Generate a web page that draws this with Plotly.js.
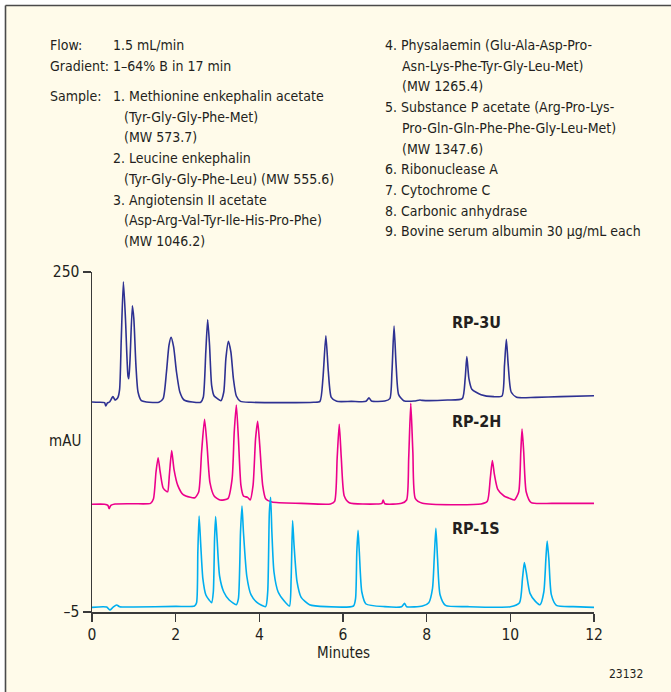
<!DOCTYPE html>
<html>
<head>
<meta charset="utf-8">
<script src="https://cdn.plot.ly/plotly-3.0.1.min.js"></script>
<style>
  html, body { margin: 0; padding: 0; background: #ffffff; }
  #chart { width: 671px; height: 692px; }
</style>
</head>
<body>
<div id="chart"></div>
<script>
// ---------- Data ----------
// RP-3U (navy), offset upward in the stacked display
const rp3uTime = [0, 0.15, 0.3, 0.33, 0.37, 0.42, 0.5, 0.55, 0.58, 0.62, 0.66, 0.7, 0.75, 0.8, 0.86, 0.88, 0.91, 0.965, 1.0, 1.05, 1.1, 1.18, 1.3, 1.6, 1.7, 1.78, 1.84, 1.89, 1.95, 2.02, 2.1, 2.2, 2.4, 2.6, 2.66, 2.72, 2.765, 2.81, 2.86, 2.92, 3.0, 3.08, 3.15, 3.2, 3.26, 3.32, 3.38, 3.45, 3.55, 3.8, 4.5, 5.3, 5.45, 5.52, 5.59, 5.65, 5.72, 5.85, 6.2, 6.55, 6.62, 6.68, 7.0, 7.12, 7.17, 7.22, 7.27, 7.33, 7.45, 7.7, 7.84, 7.9, 8.5, 8.85, 8.92, 8.96, 9.01, 9.08, 9.3, 9.6, 9.8, 9.86, 9.905, 9.95, 10.02, 10.15, 10.6, 11.2, 12];
const rp3uSignal = [152.5, 152.3, 152, 149.5, 151.8, 152.5, 156.5, 154, 154.5, 156, 162, 200, 242.7, 215, 172, 170, 185, 224.7, 215, 180, 160, 153.5, 152.5, 152.3, 155, 175, 195, 201, 194, 175, 160, 154, 152.5, 152.3, 156, 190, 214.2, 195, 165, 157, 155, 153.5, 160, 185, 198, 190, 170, 157, 153, 152.3, 152, 152.3, 153, 170, 202.2, 175, 156, 153, 153, 153, 155.7, 153.3, 153.2, 155, 175, 209.5, 180, 158, 153.5, 153.2, 154, 153.7, 154, 155, 170, 186.5, 170, 162, 158, 156.5, 157, 180, 199.5, 180, 160, 156, 156, 156.5, 157.2];

// RP-2H (magenta)
const rp2hTime = [0, 0.3, 0.38, 0.41, 0.45, 0.55, 1.0, 1.4, 1.47, 1.53, 1.58, 1.63, 1.7, 1.78, 1.81, 1.85, 1.905, 1.96, 2.05, 2.18, 2.35, 2.46, 2.55, 2.62, 2.69, 2.75, 2.82, 2.92, 3.06, 3.25, 3.35, 3.4, 3.45, 3.5, 3.56, 3.62, 3.66, 3.72, 3.78, 3.85, 3.91, 3.96, 4.01, 4.08, 4.15, 4.3, 5.0, 5.7, 5.8, 5.86, 5.91, 5.96, 6.03, 6.15, 6.8, 6.93, 6.96, 7.0, 7.4, 7.52, 7.57, 7.62, 7.67, 7.73, 7.9, 9.3, 9.45, 9.52, 9.57, 9.62, 9.7, 9.85, 10.0, 10.1, 10.2, 10.25, 10.28, 10.32, 10.38, 10.5, 11, 12];
const rp2hSignal = [75.8, 75.8, 75, 72.5, 75, 76, 76.2, 76.5, 80, 100, 110.7, 100, 88, 85.5, 85.2, 98, 116, 102, 90, 83, 81, 80.7, 85, 115, 139.5, 120, 92, 82, 79, 80, 95, 130, 150.3, 125, 90, 82, 81.5, 81, 79, 90, 125, 138, 120, 90, 80, 77.5, 76.5, 76, 78, 110, 135.8, 110, 82, 77, 76, 76.5, 79, 76.2, 76.5, 79, 110, 151.5, 115, 80, 76.5, 76, 78, 95, 108.5, 98, 87, 82, 80, 79, 85, 115, 132.2, 115, 85, 77, 76.5, 76.5];

// RP-1S (cyan)
const rp1sTime = [0, 0.35, 0.43, 0.5, 0.59, 0.66, 1.0, 2.0, 2.45, 2.5, 2.53, 2.56, 2.6, 2.65, 2.72, 2.8, 2.86, 2.9, 2.93, 2.955, 2.99, 3.05, 3.15, 3.28, 3.45, 3.5, 3.55, 3.585, 3.62, 3.7, 3.8, 3.95, 4.15, 4.2, 4.24, 4.27, 4.3, 4.35, 4.45, 4.6, 4.72, 4.76, 4.795, 4.83, 4.9, 5.0, 5.2, 5.6, 6.25, 6.3, 6.33, 6.36, 6.39, 6.45, 6.55, 7.0, 7.4, 7.47, 7.52, 7.9, 8.05, 8.14, 8.18, 8.22, 8.26, 8.32, 8.45, 9.0, 10.0, 10.22, 10.29, 10.335, 10.38, 10.47, 10.6, 10.71, 10.8, 10.85, 10.88, 10.92, 10.98, 11.1, 11.5, 12];
const rp1sSignal = [-1.5, -1.3, -3.5, -1.5, 0.3, -1, -1.2, -0.8, -0.5, 2, 40, 67, 45, 20, 8, 4, 2, 10, 50, 66.5, 50, 22, 10, 4, 0.5, 5, 55, 74.5, 55, 22, 8, 2, -1, 10, 70, 81, 55, 25, 10, 3, -0.5, 20, 63.5, 45, 18, 6, 0.5, -1, -0.5, 5, 40, 56.2, 40, 10, 1, -1, -1, 1.5, -1, -0.5, 2, 12.8, 35, 57.8, 35, 8, 0, -1, -1, 2, 20, 32, 25, 9, 3, 0.5, 10, 35, 48.2, 35, 8, 0, -1, -1.5];

const seriesNames = ["RP-3U", "RP-2H", "RP-1S"];
const seriesColors = ["#2e3192", "#ec008c", "#00aeef"];

// Axis ticks
const xTickVals = [0, 2, 4, 6, 8, 10, 12];
const xTickText = ["0", "2", "4", "6", "8", "10", "12"];
const yTickVals = [-5, 250];
const yTickText = ["\u20135", "250"];

// Text block (conditions)
const leftLabels = ["Flow:", "Gradient:", "Sample:"];
const leftValues = ["1.5 mL/min", "1\u201364% B in 17 min"];
const sampleLines = [
  "1. Methionine enkephalin acetate",
  "(Tyr-Gly-Gly-Phe-Met)",
  "(MW 573.7)",
  "2. Leucine enkephalin",
  "(Tyr-Gly-Gly-Phe-Leu) (MW 555.6)",
  "3. Angiotensin II acetate",
  "(Asp-Arg-Val-Tyr-Ile-His-Pro-Phe)",
  "(MW 1046.2)"
];
const rightLines = [
  "4. Physalaemin (Glu-Ala-Asp-Pro-",
  "Asn-Lys-Phe-Tyr-Gly-Leu-Met)",
  "(MW 1265.4)",
  "5. Substance P acetate (Arg-Pro-Lys-",
  "Pro-Gln-Gln-Phe-Phe-Gly-Leu-Met)",
  "(MW 1347.6)",
  "6. Ribonuclease A",
  "7. Cytochrome C",
  "8. Carbonic anhydrase",
  "9. Bovine serum albumin 30 \u00b5g/mL each"
];
const figureId = "23132";

// ---------- Layout geometry (pixels) ----------
const W = 671, H = 692;
const PL = 92, PR = 594, PT = 272, PB = 612;
const px = x => (x - PL) / (PR - PL);
const py = y => (PB - y) / (PB - PT);

const FONT = '"Liberation Sans Narrow", "DejaVu Sans Condensed", "Arial Narrow", sans-serif';
const TXT = "#231f20";

const annotations = [];
function addText(text, x, y, opts) {
  annotations.push(Object.assign({
    text: text, xref: "paper", yref: "paper", x: px(x), y: py(y),
    xanchor: "left", yanchor: "middle", showarrow: false,
    font: { family: FONT, size: 14, color: TXT }
  }, opts || {}));
}

const lineStep = 20.7;
addText(leftLabels[0], 48, 45);
addText(leftValues[0], 111, 45);
addText(leftLabels[1], 48, 66);
addText(leftValues[1], 111, 66);
addText(leftLabels[2], 48, 96);
const sampleIndent = [111, 122, 122, 111, 122, 111, 122, 122];
sampleLines.forEach((s, i) => addText(s, sampleIndent[i], 96 + i * lineStep));
const rightIndent = [383, 400, 400, 383, 400, 400, 383, 383, 383, 383];
rightLines.forEach((s, i) => addText(s, rightIndent[i], 45 + i * lineStep));

// Series labels
const labelY = [322, 421, 528];
seriesNames.forEach((n, i) => addText("<b>" + n + "</b>", 450, labelY[i], {
  font: { family: FONT, size: 16, color: TXT }
}));

// Axis titles
addText("mAU", 47, 441, { font: { family: FONT, size: 15, color: TXT } });
addText("Minutes", 343, 653, { xanchor: "center", font: { family: FONT, size: 15, color: TXT } });
addText(figureId, 645, 674, { xanchor: "right", font: { family: FONT, size: 12, color: TXT } });

const traces = [
  [rp3uTime, rp3uSignal],
  [rp2hTime, rp2hSignal],
  [rp1sTime, rp1sSignal]
].map((d, i) => ({
  x: d[0], y: d[1], type: "scatter", mode: "lines", name: seriesNames[i],
  line: { color: seriesColors[i], width: 1.6, shape: "spline", smoothing: 0.6 },
  hoverinfo: "skip"
}));

const BG = "#fffbea";
const layout = {
  width: W, height: H,
  margin: { l: PL, r: W - PR, t: PT, b: H - PB, pad: 0 },
  paper_bgcolor: BG, plot_bgcolor: BG,
  showlegend: false,
  font: { family: FONT, size: 15, color: TXT },
  xaxis: {
    range: [0, 12], tickvals: xTickVals, ticktext: xTickText,
    ticks: "outside", ticklen: 8, tickwidth: 1.5, tickcolor: "#3a3a3a",
    showline: true, linecolor: "#3a3a3a", linewidth: 1.5,
    showgrid: false, zeroline: false, fixedrange: true,
    tickfont: { family: FONT, size: 15.5, color: TXT }
  },
  yaxis: {
    range: [-5, 250], tickvals: yTickVals, ticktext: yTickText,
    ticks: "outside", ticklen: 8, tickwidth: 1.5, tickcolor: "#3a3a3a",
    showline: true, linecolor: "#3a3a3a", linewidth: 1.5,
    showgrid: false, zeroline: false, fixedrange: true,
    tickfont: { family: FONT, size: 15.5, color: TXT }
  },
  annotations: annotations,
  shapes: [
    // white surround above and left of the panel
    { type: "rect", xref: "paper", yref: "paper", x0: px(-2), x1: px(W + 2), y0: py(5), y1: py(-2),
      fillcolor: "#ffffff", line: { width: 0 }, layer: "below" },
    { type: "rect", xref: "paper", yref: "paper", x0: px(-2), x1: px(5), y0: py(H + 2), y1: py(-2),
      fillcolor: "#ffffff", line: { width: 0 }, layer: "below" },
    // panel border (top and left)
    { type: "line", xref: "paper", yref: "paper", x0: px(5.5), x1: px(W + 2), y0: py(5.5), y1: py(5.5),
      line: { color: "#4a4a4a", width: 1.6 } },
    { type: "line", xref: "paper", yref: "paper", x0: px(5.5), x1: px(5.5), y0: py(5.5), y1: py(H + 2),
      line: { color: "#4a4a4a", width: 1.6 } }
  ]
};

Plotly.newPlot("chart", traces, layout, { displayModeBar: false, staticPlot: true });
</script>
</body>
</html>
